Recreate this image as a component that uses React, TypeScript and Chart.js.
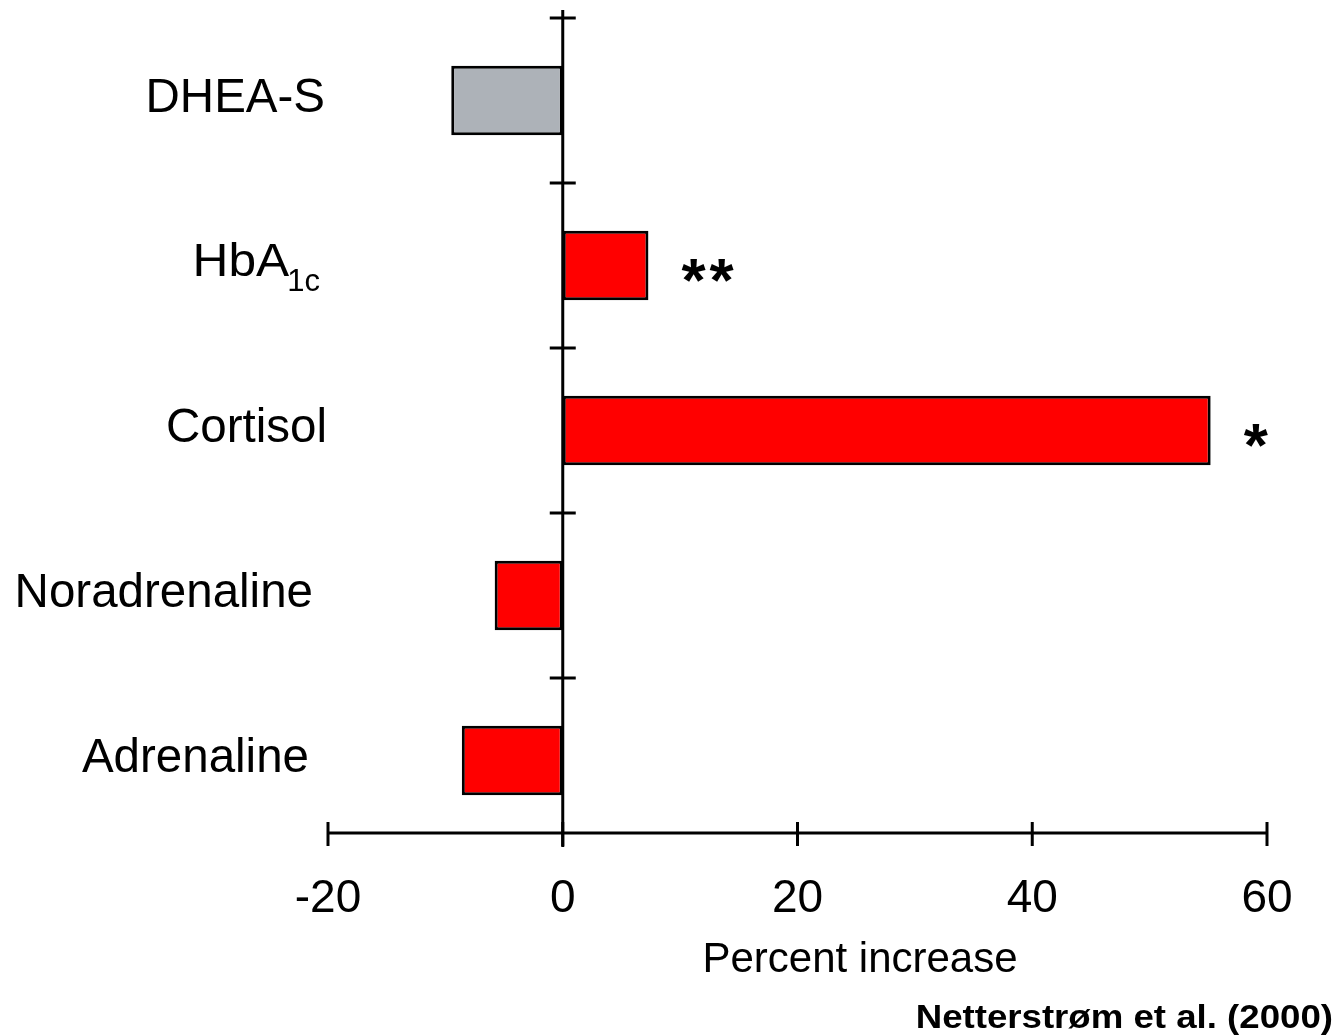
import React, { useEffect, useRef } from "react";
import { Chart, registerables } from "chart.js";

Chart.register(...registerables);

// ---------- data ----------
const labelMain = ["DHEA-S", "HbA", "Cortisol", "Noradrenaline", "Adrenaline"];
const labelSub = ["", "1c", "", "", ""];
const categories = labelMain.map((m, i) => m + labelSub[i]);
const percentIncrease = [-9.5, 7.3, 55.2, -5.8, -8.6];
const barColors = ["#ADB2B8", "#FF0000", "#FF0000", "#FF0000", "#FF0000"];
const significance = ["", "**", "*", "", ""];
const xTicks = [-20, 0, 20, 40, 60];
const xAxisTitle = "Percent increase";
const citation = "Netterstrøm et al. (2000)";

// ---------- layout / style ----------
const W = 1339;
const H = 1036;
const FONT = '"Liberation Sans", Arial, Helvetica, sans-serif';
const LABEL_RIGHT = [325, 320, 327, 313, 309];

const overlay = {
  id: "overlay",
  afterDraw(chart: any) {
    const ctx: CanvasRenderingContext2D = chart.ctx;
    const xs = chart.scales.x;
    const ys = chart.scales.y;
    const area = chart.chartArea;
    const x0 = xs.getPixelForValue(0);
    const slot = (area.bottom - area.top) / categories.length;
    const axisY = area.bottom - 10;
    const line = (a: number, b: number, c: number, d: number) => {
      ctx.beginPath();
      ctx.moveTo(a, b);
      ctx.lineTo(c, d);
      ctx.stroke();
    };
    ctx.save();
    ctx.strokeStyle = "#000";
    ctx.lineWidth = 3;
    ctx.lineCap = "butt";
    // y axis
    line(x0, area.top - 8, x0, area.bottom + 4);
    categories.forEach((_, i) => {
      const y = ys.getPixelForValue(i) - slot / 2;
      line(x0 - 13, y, x0 + 13, y);
    });
    // x axis
    line(xs.getPixelForValue(xTicks[0]), axisY, xs.getPixelForValue(xTicks[xTicks.length - 1]), axisY);
    xTicks.forEach((v) => {
      const x = xs.getPixelForValue(v);
      line(x, axisY - 11, x, axisY + 13);
    });

    ctx.fillStyle = "#000";
    ctx.textBaseline = "alphabetic";
    // category labels
    categories.forEach((_, i) => {
      const yc = ys.getPixelForValue(i) - 5.5;
      if (labelSub[i]) {
        const mainSize = 46;
        const subSize = 31;
        const sx = 1.08;
        ctx.font = `${mainSize}px ${FONT}`;
        const wm = ctx.measureText(labelMain[i]).width * sx;
        ctx.font = `${subSize}px ${FONT}`;
        const ws = ctx.measureText(labelSub[i]).width;
        const left = LABEL_RIGHT[i] - wm - ws + 2;
        const base = yc + (0.716 * mainSize) / 2;
        ctx.textAlign = "left";
        ctx.save();
        ctx.translate(left, base);
        ctx.scale(sx, 1);
        ctx.font = `${mainSize}px ${FONT}`;
        ctx.fillText(labelMain[i], 0, 0);
        ctx.restore();
        ctx.font = `${subSize}px ${FONT}`;
        ctx.fillText(labelSub[i], left + wm - 2, base + 15);
      } else {
        const size = 47.5;
        ctx.font = `${size}px ${FONT}`;
        ctx.textAlign = "right";
        ctx.fillText(labelMain[i], LABEL_RIGHT[i], yc + (0.716 * size) / 2);
      }
    });

    // significance stars (each star drawn separately with a fixed pitch)
    ctx.font = `bold 62px ${FONT}`;
    ctx.textAlign = "left";
    significance.forEach((s, i) => {
      if (!s) return;
      const barEnd = xs.getPixelForValue(percentIncrease[i]);
      const yc = ys.getPixelForValue(i) + 5;
      const m = ctx.measureText("*");
      const inkH = m.actualBoundingBoxAscent + m.actualBoundingBoxDescent;
      const base = yc + inkH / 2 - m.actualBoundingBoxDescent;
      for (let k = 0; k < s.length; k++) {
        const left = barEnd + 33 + k * 28 + m.actualBoundingBoxLeft;
        ctx.fillText("*", left, base);
      }
    });

    // axis title
    ctx.font = `42px ${FONT}`;
    ctx.textAlign = "center";
    ctx.fillText(xAxisTitle, 860, 972);

    // citation (slightly widened like the reference lettering)
    ctx.save();
    ctx.font = `bold 33px ${FONT}`;
    ctx.textAlign = "right";
    ctx.translate(1333, 1028);
    ctx.scale(1.11, 1);
    ctx.fillText(citation, 0, 0);
    ctx.restore();
    ctx.restore();
  },
};

export default function App() {
  const ref = useRef<HTMLCanvasElement | null>(null);
  useEffect(() => {
    document.body.style.margin = "0";
    const canvas = ref.current!;
    const chart = new Chart(canvas, {
      type: "bar",
      data: {
        labels: categories,
        datasets: [
          {
            data: percentIncrease,
            backgroundColor: barColors,
            borderColor: "#000",
            borderWidth: 3,
            borderSkipped: false,
            barPercentage: 0.42,
            categoryPercentage: 1,
          },
        ],
      },
      options: {
        indexAxis: "y",
        responsive: false,
        animation: false,
        events: [],
        layout: { padding: { left: 328, right: 72, top: 18, bottom: 0 } },
        plugins: { legend: { display: false }, tooltip: { enabled: false }, title: { display: false } },
        scales: {
          y: { display: false },
          x: {
            type: "linear",
            min: -20,
            max: 60,
            afterBuildTicks: (scale: any) => {
              scale.ticks = xTicks.map((v) => ({ value: v }));
            },
            afterFit: (scale: any) => {
              scale.height = 193;
            },
            grid: { display: false, drawTicks: false },
            border: { display: false },
            ticks: {
              color: "#000",
              padding: 29,
              maxRotation: 0,
              autoSkip: false,
              font: { family: FONT, size: 46 },
            },
          },
        },
      },
      plugins: [overlay],
    });
    return () => chart.destroy();
  }, []);
  return (
    <div style={{ width: W, height: H, background: "#fff" }}>
      <canvas ref={ref} width={W} height={H} style={{ display: "block" }} />
    </div>
  );
}
